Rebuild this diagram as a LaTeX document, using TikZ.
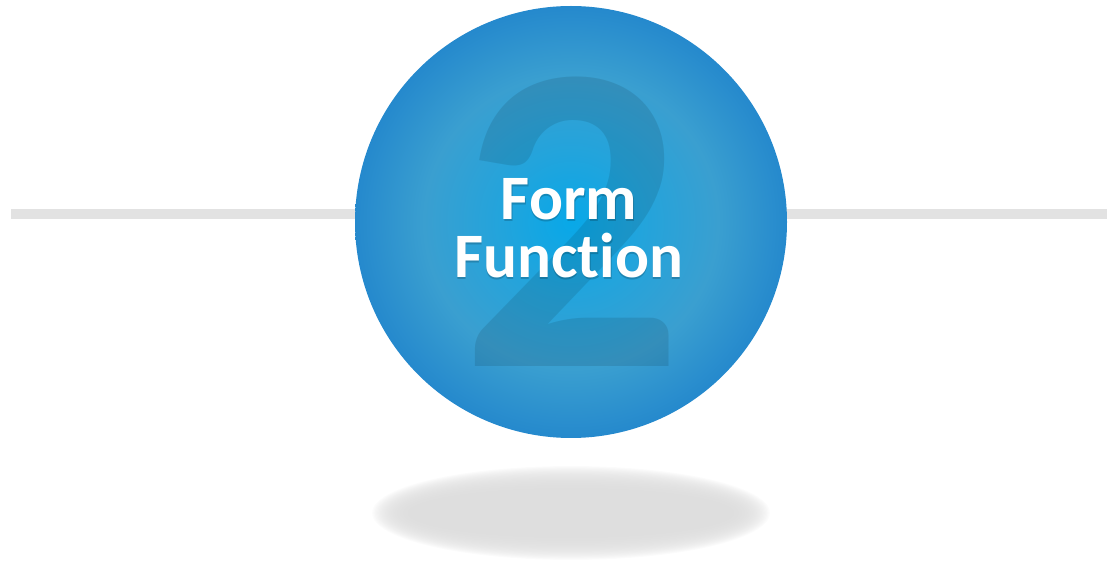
\documentclass[tikz,border=0pt]{standalone}
\usepackage{fontspec}
\setmainfont[Ligatures=NoCommon]{Carlito}
\usetikzlibrary{calc}
\definecolor{bubblecenter}{HTML}{08A8E8}
\definecolor{bubblemid}{HTML}{22A4DC}
\definecolor{bubblering}{HTML}{3A9FD0}
\definecolor{bubbleedge}{HTML}{2589CD}
\definecolor{linegray}{HTML}{E2E2E2}
\definecolor{shadowgray}{HTML}{DCDCDC}
\pgfdeclareradialshading{bubble}{\pgfpoint{0bp}{0bp}}{color(0bp)=(bubblecenter); color(8bp)=(bubblemid); color(17bp)=(bubblering); color(25bp)=(bubbleedge); color(50bp)=(bubbleedge)}
\newcommand{\bubblex}{571}
\newcommand{\bubbley}{222}
\newcommand{\bubbleradius}{216}
\newcommand{\liney}{214}
\newcommand{\shadowy}{513}

\begin{document}
\begin{tikzpicture}[x=0.025cm,y=-0.025cm]
\tikzstyle{label}=[text=white,font=\fontsize{45}{45}\selectfont\bfseries,inner sep=0pt,anchor=base]
\tikzstyle{labelshadow}=[text=black,opacity=0.18,font=\fontsize{45}{45}\selectfont\bfseries,inner sep=0pt,anchor=base]
\tikzstyle{bignumber}=[text=black,text opacity=0.1,font=\fontsize{314}{314}\selectfont\bfseries,inner sep=0pt,anchor=base]

\useasboundingbox (0,0) rectangle (1107,563);

%% floor shadow
\foreach \i in {0,...,29}
  \fill[shadowgray,opacity=0.09] (\bubblex,\shadowy) ellipse ({199-1.3*\i} and {47-0.8*\i});

%% grey line behind the bubble
\coordinate (lineleft) at (11,\liney);
\coordinate (lineright) at (1107,\liney);
\draw[linegray,line width=0.25cm] (lineleft) -- (lineright);

%% bubble
\coordinate (bubblecentre) at (\bubblex,\bubbley);
\shade[shading=bubble] (bubblecentre) circle (\bubbleradius);

%% number
\node (number) [bignumber] at (572,367) {2};

%% text
\node (formshadow) [labelshadow] at (569.8,221.2) {Form};
\node (functionshadow) [labelshadow] at (569.3,279.2) {Function};
\node (form) [label] at (569,220) {Form};
\node (function) [label] at (568.5,278) {Function};

\end{tikzpicture}
\end{document}
